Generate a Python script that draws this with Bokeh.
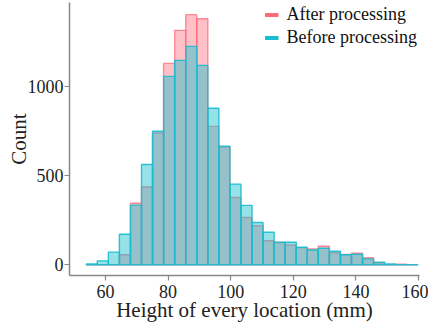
from bokeh.plotting import figure
from bokeh.models import Legend, LegendItem, FixedTicker, Range1d
from bokeh.embed import file_html
from bokeh.resources import INLINE

# ---- data ----
bin_edges = [53.85, 57.38, 60.91, 64.44, 67.97, 71.50, 75.03, 78.56, 82.09, 85.62,
             89.15, 92.68, 96.21, 99.74, 103.27, 106.80, 110.33, 113.86, 117.39, 120.92,
             124.45, 127.98, 131.51, 135.04, 138.57, 142.10, 145.63, 149.16, 152.69, 156.22,
             159.75]
before_counts = [4, 22, 71, 171, 334, 562, 748, 1055, 1145, 1223,
                 1117, 877, 664, 452, 333, 237, 182, 126, 126, 98,
                 83, 93, 76, 56, 59, 33, 15, 4, 1, 1]
after_counts = [0, 0, 0, 56, 345, 436, 738, 1128, 1313, 1401,
                1378, 775, 660, 377, 265, 219, 135, 125, 111, 96,
                89, 104, 67, 58, 65, 39, 11, 0, 3, 0]
x_ticks = [60, 80, 100, 120, 140, 160]
y_ticks = [0, 500, 1000]
series_labels = ["After processing", "Before processing"]
x_label = "Height of every location (mm)"
y_label = "Count"

PINK = "#FF6B7A"
CYAN = "#17BECF"
FONT = "Liberation Serif"

p = figure(width=428, height=324, output_backend="svg", toolbar_location=None,
           x_range=Range1d(48.5, 160.3), y_range=Range1d(-60, 1469),
           min_border_left=69, min_border_right=9, min_border_top=2, min_border_bottom=46)

lefts = bin_edges[:-1]
rights = bin_edges[1:]

r_after = p.quad(left=lefts, right=rights, bottom=0, top=after_counts,
                 fill_color=PINK, fill_alpha=0.42, line_color=PINK, line_alpha=0.75, line_width=1.4)
r_before = p.quad(left=lefts, right=rights, bottom=0, top=before_counts,
                  fill_color=CYAN, fill_alpha=0.45, line_color=CYAN, line_alpha=0.9, line_width=1.4)

# legend proxies drawn as short thick lines (kept outside the visible y range)
l_after = p.line(x=[50, 51], y=[-5000, -5000], line_color=PINK, line_width=4)
l_before = p.line(x=[50, 51], y=[-5000, -5000], line_color=CYAN, line_width=4)

legend = Legend(items=[LegendItem(label=series_labels[0], renderers=[l_after]),
                       LegendItem(label=series_labels[1], renderers=[l_before])],
                location="top_right", background_fill_alpha=0, border_line_alpha=0,
                label_text_font=FONT, label_text_font_size="18px", label_text_color="#111111",
                glyph_width=14, glyph_height=21, label_standoff=8, spacing=2,
                padding=0, margin=2, label_height=21)
p.add_layout(legend, "center")

p.grid.visible = False
p.outline_line_color = None

for ax in (p.xaxis[0], p.yaxis[0]):
    ax.axis_line_color = "#888888"
    ax.axis_line_width = 1.5
    ax.major_tick_line_color = "#888888"
    ax.major_tick_line_width = 1.2
    ax.major_tick_out = 5
    ax.major_tick_in = 0
    ax.minor_tick_line_color = None
    ax.major_label_text_font = FONT
    ax.major_label_text_font_size = "18px"
    ax.major_label_text_color = "#222222"
    ax.axis_label_text_font = FONT
    ax.axis_label_text_font_size = "21px"
    ax.axis_label_text_font_style = "normal"
    ax.axis_label_text_color = "#222222"

p.yaxis[0].major_label_standoff = 1
p.yaxis[0].axis_label_standoff = -6
p.xaxis[0].major_label_standoff = 4
p.xaxis[0].axis_label_standoff = -3

p.xaxis[0].ticker = FixedTicker(ticks=x_ticks)
p.yaxis[0].ticker = FixedTicker(ticks=y_ticks)
p.xaxis[0].axis_label = x_label
p.yaxis[0].axis_label = y_label

open("out.html", "w").write(file_html(p, INLINE))
